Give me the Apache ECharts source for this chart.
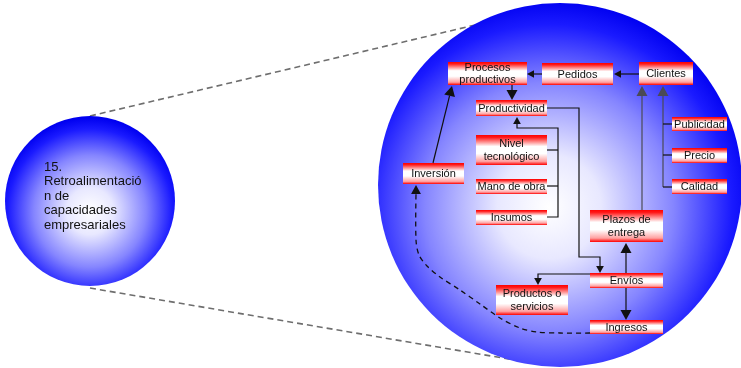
<!DOCTYPE html>
<html><head><meta charset="utf-8">
<script src="https://cdn.jsdelivr.net/npm/echarts@6/dist/echarts.min.js"></script>
<style>html,body{margin:0;padding:0;background:#fff}#c{width:741px;height:368px}</style>
</head><body><div id="c"></div>
<script>
// ---- Diagram data (diagram units, 0..741 x 0..368) ----
const circleCX = [90, 560];
const circleCY = [201, 185];
const circleR = [85, 182];
const circleText = '15.\nRetroalimentació\nn de\ncapacidades\nempresariales';

const boxLabels = ['Procesos\nproductivos','Pedidos','Clientes','Productividad','Nivel\ntecnológico','Mano de obra','Insumos','Inversión','Publicidad','Precio','Calidad','Plazos de\nentrega','Envíos','Productos o\nservicios','Ingresos'];
const boxLeft   = [448,542,639,476,476,476,476,403,672,672,672,590,590,496,590];
const boxTop    = [62, 63, 62, 100,135,179,210,163,117,148,179,210,273,285,320];
const boxRight  = [527,613,693,547,547,547,547,464,727,727,727,663,663,568,663];
const boxBottom = [85, 85, 85, 116,165,194,225,184,131,163,194,242,288,315,334];

// zoom connectors between the two circles
const zoomLines = [[[90,116],[492,21]], [[90,288],[538,364]]];

// arrows / links inside the big circle
const linkPaths = [
  [[542,74],[527,74]],
  [[639,74],[614,74]],
  [[547,217],[558,217],[558,128],[517,128],[517,117]],
  [[547,150],[558,150]],
  [[547,186],[558,186]],
  [[547,108],[579,108],[579,257],[600,257],[600,273]],
  [[590,274],[538,274],[538,285]],
  [[512,85],[512,100]],
  [[433,163],[452,86]],
  [[642,210],[642,86]],
  [[663,187],[663,86]],
  [[663,124],[672,124]],
  [[663,155],[672,155]],
  [[663,187],[672,187]],
  [[626,273],[626,243]],
  [[626,288],[626,320]],
  [[590,333],[560,333],[537,332],[520,328],[500,318],[480,304],[460,290],[440,277],[427,266],[419,255],[416,240],[416,185]]
];
const linkHead = [7,7,7,0,0,7,7,10,10,10,10,0,0,0,10,10,9];
const linkDashed = [0,0,0,0,0,0,0,0,0,0,0,0,0,0,0,0,1];

// ---- Rendering ----
const chart = echarts.init(document.getElementById('c'), null, {renderer:'canvas'});
const FONT = '"Liberation Sans", Arial, sans-serif';

function px(api, p){ return api.coord(p); }

function arrowShapes(pts, head, dashed, color){
  const children = [];
  let line = pts.slice();
  if (head > 0) {
    const P = pts[pts.length-1], Q = pts[pts.length-2];
    let dx = P[0]-Q[0], dy = P[1]-Q[1];
    const L = Math.sqrt(dx*dx+dy*dy); dx/=L; dy/=L;
    const B = [P[0]-dx*head, P[1]-dy*head];
    const w = head*0.55;
    children.push({type:'polygon', shape:{points:[P,[B[0]-dy*w,B[1]+dx*w],[B[0]+dy*w,B[1]-dx*w]]}, style:{fill:color}});
    line[line.length-1] = B;
  }
  children.unshift({type:'polyline', shape:{points:line, smooth: dashed ? 0.3 : 0},
    style:{stroke:color, lineWidth: dashed?1.3:1.2, fill:null, lineDash: dashed?[5,4]:null}});
  return children;
}

const option = {
  animation:false,
  grid:{left:0,right:0,top:0,bottom:0},
  xAxis:{type:'value', min:0, max:741, show:false},
  yAxis:{type:'value', min:0, max:368, inverse:true, show:false},
  series:[
    { // zoom connectors
      type:'custom', clip:false,
      data: zoomLines.map((l,i)=>[l[0][0], l[0][1], i]),
      renderItem(params, api){
        const l = zoomLines[params.dataIndex];
        return {type:'line', shape:{x1:px(api,l[0])[0], y1:px(api,l[0])[1], x2:px(api,l[1])[0], y2:px(api,l[1])[1]},
          style:{stroke:'#6e6e6e', lineWidth:1.6, lineDash:[6,4]}};
      }
    },
    { // circles
      type:'custom', clip:false,
      data: circleCX.map((x,i)=>[x, circleCY[i]]),
      renderItem(params, api){
        const i = params.dataIndex;
        const c = api.coord([circleCX[i], circleCY[i]]);
        const e = api.coord([circleCX[i]+circleR[i], circleCY[i]]);
        const r = e[0]-c[0];
        const grad = {type:'radial', x: i===0?0.5:0.47, y:0.56, r: i===0?0.55:0.57, colorStops:[
          {offset:0, color:'#ffffff'},{offset:0.25, color:'#e8e8ff'},{offset:0.6, color:'#8585ff'},{offset:0.88, color:'#1a1aff'},{offset:1, color:'#0000f0'}]};
        const children = [{type:'circle', shape:{cx:c[0], cy:c[1], r:r}, style:{fill:grad}}];
        if (i===0) {
          const t = api.coord([44, 160]);
          children.push({type:'text', style:{text:circleText, x:t[0], y:t[1], align:'left', verticalAlign:'top',
            font:'13px '+FONT, lineHeight:14.5, fill:'#111'}});
        }
        return {type:'group', children};
      }
    },
    { // boxes
      type:'custom', clip:false,
      data: boxLabels.map((b,i)=>[boxLeft[i], boxTop[i], boxRight[i], boxBottom[i]]),
      renderItem(params, api){
        const i = params.dataIndex;
        const a = api.coord([api.value(0), api.value(1)]);
        const b = api.coord([api.value(2), api.value(3)]);
        const grad = {type:'linear', x:0, y:0, x2:0, y2:1, colorStops:[
          {offset:0, color:'#ff0000'},{offset:0.08, color:'#ff1a1a'},{offset:0.38, color:'#ffffff'},{offset:0.62, color:'#ffffff'},{offset:0.88, color:'#ffa0a0'},{offset:1, color:'#ff0000'}]};
        return {type:'group', children:[
          {type:'rect', shape:{x:a[0], y:a[1], width:b[0]-a[0], height:b[1]-a[1]}, style:{fill:grad}},
          {type:'text', style:{text:boxLabels[i], x:(a[0]+b[0])/2, y:(a[1]+b[1])/2+0.5, align:'center', verticalAlign:'middle',
            font:'11px '+FONT, lineHeight:12.5, fill:'#111'}}
        ]};
      }
    },
    { // links & arrows
      type:'custom', clip:false,
      data: linkPaths.map((p,i)=>[p[0][0], p[0][1], i]),
      renderItem(params, api){
        const i = params.dataIndex;
        const pts = linkPaths[i].map(p=>api.coord(p));
        const color = (i===9||i===10) ? '#4a4a55' : '#111';
        return {type:'group', children: arrowShapes(pts, linkHead[i], linkDashed[i], color)};
      }
    }
  ]
};
chart.setOption(option);
</script>
</body></html>
